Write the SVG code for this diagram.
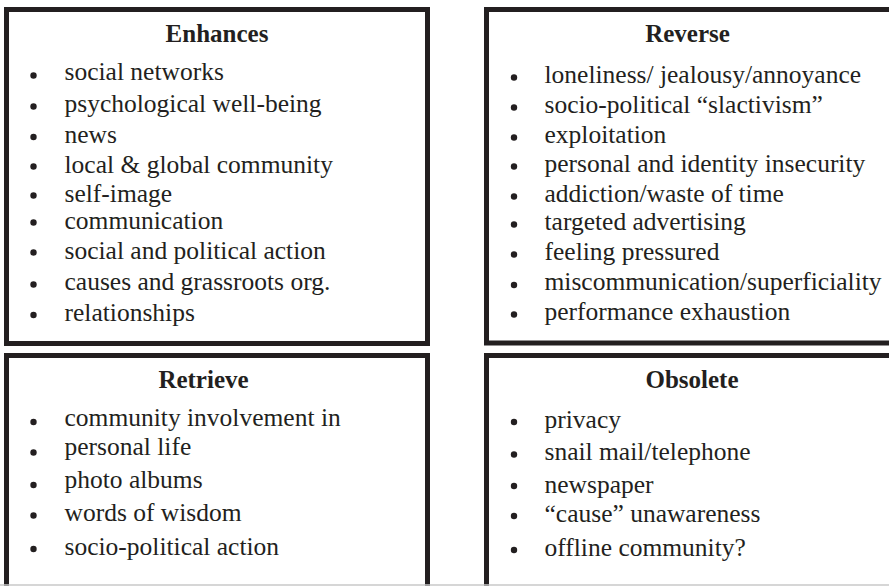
<svg xmlns="http://www.w3.org/2000/svg" width="889" height="586" viewBox="0 0 889 586">
<style>
.box{fill:#fff;stroke:#231f20;stroke-width:5}
.title{font-family:"Liberation Serif","Times New Roman",serif;font-weight:bold;font-size:25px;fill:#231f20;text-anchor:middle}
.item{font-family:"Liberation Serif","Times New Roman",serif;font-size:25.5px;fill:#231f20}
.dot{fill:#231f20}
</style>
<rect x="0" y="0" width="889" height="586" fill="#fff"/>
<g id="enhances">
<rect class="box" x="6.5" y="9.5" width="421" height="334"/>
<text class="title" x="217" y="41.5">Enhances</text>
<g class="dot">
<circle cx="33.5" cy="75.5" r="3.2"/><circle cx="33.5" cy="106.5" r="3.2"/><circle cx="33.5" cy="137" r="3.2"/><circle cx="33.5" cy="166.5" r="3.2"/><circle cx="33.5" cy="195.5" r="3.2"/><circle cx="33.5" cy="222.5" r="3.2"/><circle cx="33.5" cy="252.5" r="3.2"/><circle cx="33.5" cy="284.5" r="3.2"/><circle cx="33.5" cy="315" r="3.2"/>
</g>
<text class="item" x="64.5" y="80">social networks</text>
<text class="item" x="64.5" y="111.5">psychological well-being</text>
<text class="item" x="64.5" y="142.5">news</text>
<text class="item" x="64.5" y="172.5">local &amp; global community</text>
<text class="item" x="64.5" y="201.5">self-image</text>
<text class="item" x="64.5" y="228.5">communication</text>
<text class="item" x="64.5" y="258.5">social and political action</text>
<text class="item" x="64.5" y="290">causes and grassroots org.</text>
<text class="item" x="64.5" y="321">relationships</text>
</g>
<g id="reverse">
<rect class="box" x="486.5" y="9.5" width="420" height="333.5"/>
<text class="title" x="687.5" y="41.5">Reverse</text>
<g class="dot">
<circle cx="514" cy="77.5" r="3.2"/><circle cx="514" cy="107.5" r="3.2"/><circle cx="514" cy="137.5" r="3.2"/><circle cx="514" cy="166.5" r="3.2"/><circle cx="514" cy="196.5" r="3.2"/><circle cx="514" cy="224.5" r="3.2"/><circle cx="514" cy="254.5" r="3.2"/><circle cx="514" cy="285" r="3.2"/><circle cx="514" cy="314.5" r="3.2"/>
</g>
<text class="item" x="544.5" y="82.5">loneliness/ jealousy/annoyance</text>
<text class="item" x="544.5" y="112.5">socio-political “slactivism”</text>
<text class="item" x="544.5" y="142.5">exploitation</text>
<text class="item" x="544.5" y="171.5">personal and identity insecurity</text>
<text class="item" x="544.5" y="201.5">addiction/waste of time</text>
<text class="item" x="544.5" y="230">targeted advertising</text>
<text class="item" x="544.5" y="260">feeling pressured</text>
<text class="item" x="544.5" y="289.5">miscommunication/superficiality</text>
<text class="item" x="544.5" y="319.5">performance exhaustion</text>
</g>
<g id="retrieve">
<rect class="box" x="6.5" y="355.5" width="421" height="250"/>
<text class="title" x="203.5" y="387.5">Retrieve</text>
<g class="dot">
<circle cx="33.5" cy="422" r="3.2"/><circle cx="33.5" cy="452.5" r="3.2"/><circle cx="33.5" cy="485" r="3.2"/><circle cx="33.5" cy="515.5" r="3.2"/><circle cx="33.5" cy="549" r="3.2"/>
</g>
<text class="item" x="64.5" y="426">community involvement in</text>
<text class="item" x="64.5" y="454.5">personal life</text>
<text class="item" x="64.5" y="487.5">photo albums</text>
<text class="item" x="64.5" y="521">words of wisdom</text>
<text class="item" x="64.5" y="554.5">socio-political action</text>
</g>
<g id="obsolete">
<rect class="box" x="486.5" y="355.5" width="420" height="250"/>
<text class="title" x="692" y="387.5">Obsolete</text>
<g class="dot">
<circle cx="514" cy="422" r="3.2"/><circle cx="514" cy="454.5" r="3.2"/><circle cx="514" cy="486" r="3.2"/><circle cx="514" cy="516" r="3.2"/><circle cx="514" cy="550" r="3.2"/>
</g>
<text class="item" x="544.5" y="427.5">privacy</text>
<text class="item" x="544.5" y="459.5">snail mail/telephone</text>
<text class="item" x="544.5" y="492.5">newspaper</text>
<text class="item" x="544.5" y="522">“cause” unawareness</text>
<text class="item" x="544.5" y="556">offline community?</text>
</g>
<g id="connectors"></g>
<line x1="0" y1="585" x2="889" y2="585" stroke="#c8c8c8" stroke-width="1.5"/>
</svg>
